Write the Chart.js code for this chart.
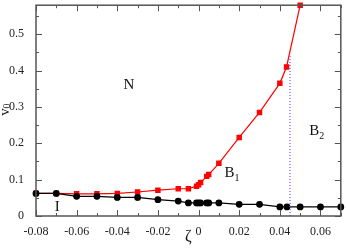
<!DOCTYPE html>
<html>
<head>
<meta charset="utf-8">
<script src="https://cdn.jsdelivr.net/npm/chart.js@4/dist/chart.umd.min.js"></script>
<style>
  html, body { margin: 0; padding: 0; background: #fff; }
  #wrap { width: 346px; height: 248px; }
</style>
</head>
<body>
<div id="wrap"><canvas id="phase"></canvas></div>
<script>
// upper boundary (red squares)
const redZeta = [-0.08, -0.07, -0.06, -0.05, -0.04, -0.03, -0.02, -0.01, -0.005, -0.001, 0, 0.001, 0.004, 0.005, 0.01, 0.02, 0.03, 0.04, 0.0433, 0.05];
const redV0   = [0.062, 0.062, 0.061, 0.061, 0.062, 0.066, 0.071, 0.075, 0.075, 0.082, 0.086, 0.092, 0.109, 0.114, 0.145, 0.216, 0.285, 0.365, 0.41, 0.58];

// lower boundary (black circles)
const blackZeta = [-0.08, -0.07, -0.06, -0.05, -0.04, -0.03, -0.02, -0.01, -0.005, -0.001, 0, 0.001, 0.004, 0.005, 0.01, 0.02, 0.03, 0.04, 0.0435, 0.05, 0.06, 0.07];
const blackV0   = [0.062, 0.062, 0.054, 0.054, 0.051, 0.051, 0.045, 0.041, 0.036, 0.036, 0.036, 0.036, 0.036, 0.036, 0.036, 0.032, 0.032, 0.025, 0.025, 0.025, 0.025, 0.025];

// B1/B2 divider (blue dotted)
const dividerZeta = [0.045, 0.045];
const dividerV0   = [0, 0.44];

// region labels
const regionLabels = [
    { text: "N",  sub: "",  x: -0.0343, y: 0.361 },
    { text: "B",  sub: "1", x: 0.0152,  y: 0.117 },
    { text: "B",  sub: "2", x: 0.0569,  y: 0.234 },
    { text: "I",  sub: "",  x: -0.0696, y: 0.024 }
];

const xMajor = [-0.08, -0.06, -0.04, -0.02, 0, 0.02, 0.04, 0.06];
const yMajor = [0, 0.1, 0.2, 0.3, 0.4, 0.5];

const toPts = (xs, ys) => xs.map((x, i) => ({ x: x, y: ys[i] }));
const SERIF = "'Liberation Serif', 'DejaVu Serif', serif";

// frame, inward ticks, labels and axis titles
const decor = {
    id: "decor",
    afterDraw(chart) {
        const ctx = chart.ctx;
        const a = chart.chartArea;
        const xs = chart.scales.x, ys = chart.scales.y;
        ctx.save();
        ctx.strokeStyle = "#555";
        ctx.lineWidth = 1.5;
        ctx.strokeRect(a.left, a.top, a.right - a.left, a.bottom - a.top);

        ctx.lineWidth = 1;
        ctx.beginPath();
        for (let v = -0.08; v <= 0.0701; v += 0.01) {
            const px = Math.round(xs.getPixelForValue(v)) + 0.5;
            const major = Math.abs(Math.round(v * 100)) % 2 === 0;
            const len = major ? 6 : 3;
            ctx.moveTo(px, a.bottom); ctx.lineTo(px, a.bottom - len);
            ctx.moveTo(px, a.top); ctx.lineTo(px, a.top + len);
        }
        for (let v = 0; v <= 0.5801; v += 0.05) {
            const py = Math.round(ys.getPixelForValue(v)) + 0.5;
            const major = Math.round(v * 100) % 10 === 0;
            const len = major ? 6 : 3;
            ctx.moveTo(a.left, py); ctx.lineTo(a.left + len, py);
            ctx.moveTo(a.right, py); ctx.lineTo(a.right - len, py);
        }
        ctx.stroke();

        ctx.fillStyle = "#111";
        ctx.textBaseline = "middle";
        regionLabels.forEach(l => {
            const px = xs.getPixelForValue(l.x), py = ys.getPixelForValue(l.y);
            ctx.font = "15px " + SERIF;
            ctx.textAlign = "left";
            const w = ctx.measureText(l.text).width;
            ctx.fillText(l.text, px - w / 2, py);
            if (l.sub) {
                ctx.font = "10px " + SERIF;
                ctx.fillText(l.sub, px + w / 2, py + 5);
            }
        });

        // x title
        ctx.font = "16px " + SERIF;
        ctx.textAlign = "center";
        ctx.fillText("ζ", (a.left + a.right) / 2, 237);

        // y title, rotated with subscript
        ctx.translate(5, 112);
        ctx.rotate(-Math.PI / 2);
        ctx.font = "15px " + SERIF;
        ctx.textAlign = "center";
        ctx.fillText("v", 0, 0);
        ctx.font = "10px " + SERIF;
        ctx.textAlign = "left";
        ctx.fillText("0", 3.5, 2);
        ctx.restore();
    }
};

const ctx = document.getElementById("phase").getContext("2d");

const myChart = new Chart(ctx, {
    type: "scatter",
    data: {
        datasets: [
            {
                data: toPts(dividerZeta, dividerV0),
                showLine: true,
                borderColor: "#5a5aff",
                borderWidth: 1.2,
                borderDash: [1, 2],
                pointRadius: 0
            },
            {
                data: toPts(blackZeta, blackV0),
                showLine: true,
                borderColor: "#000",
                backgroundColor: "#000",
                borderWidth: 1.2,
                pointStyle: "circle",
                pointRadius: 2.8
            },
            {
                data: toPts(redZeta, redV0),
                showLine: true,
                borderColor: "#ff0000",
                backgroundColor: "#ff0000",
                borderWidth: 1.2,
                pointStyle: "rect",
                pointRadius: 3
            }
        ]
    },
    options: {
        responsive: true,
        maintainAspectRatio: false,
        animation: false,
        clip: false,
        layout: { padding: { top: 2, right: 3, left: 0, bottom: 0 } },
        plugins: { legend: { display: false }, tooltip: { enabled: false } },
        scales: {
            x: {
                type: "linear",
                min: -0.08,
                max: 0.07,
                grid: { display: false },
                border: { display: false },
                afterFit: s => { s.height = 32; s.paddingLeft = 0; s.paddingRight = 0; },
                afterBuildTicks: s => { s.ticks = xMajor.map(v => ({ value: v })); },
                ticks: {
                    padding: 1,
                    color: "#222",
                    font: { family: SERIF, size: 12 },
                    callback: v => (Math.abs(v) < 1e-9 ? "0" : v.toFixed(2))
                }
            },
            y: {
                type: "linear",
                min: 0,
                max: 0.58,
                grid: { display: false },
                border: { display: false },
                afterFit: s => { s.width = 36; s.paddingTop = 0; s.paddingBottom = 0; },
                afterBuildTicks: s => { s.ticks = yMajor.map(v => ({ value: v })); },
                ticks: {
                    padding: 4,
                    color: "#222",
                    font: { family: SERIF, size: 12 },
                    callback: v => (Math.abs(v) < 1e-9 ? "0" : v.toFixed(1))
                }
            }
        }
    },
    plugins: [decor]
});
</script>
</body>
</html>
